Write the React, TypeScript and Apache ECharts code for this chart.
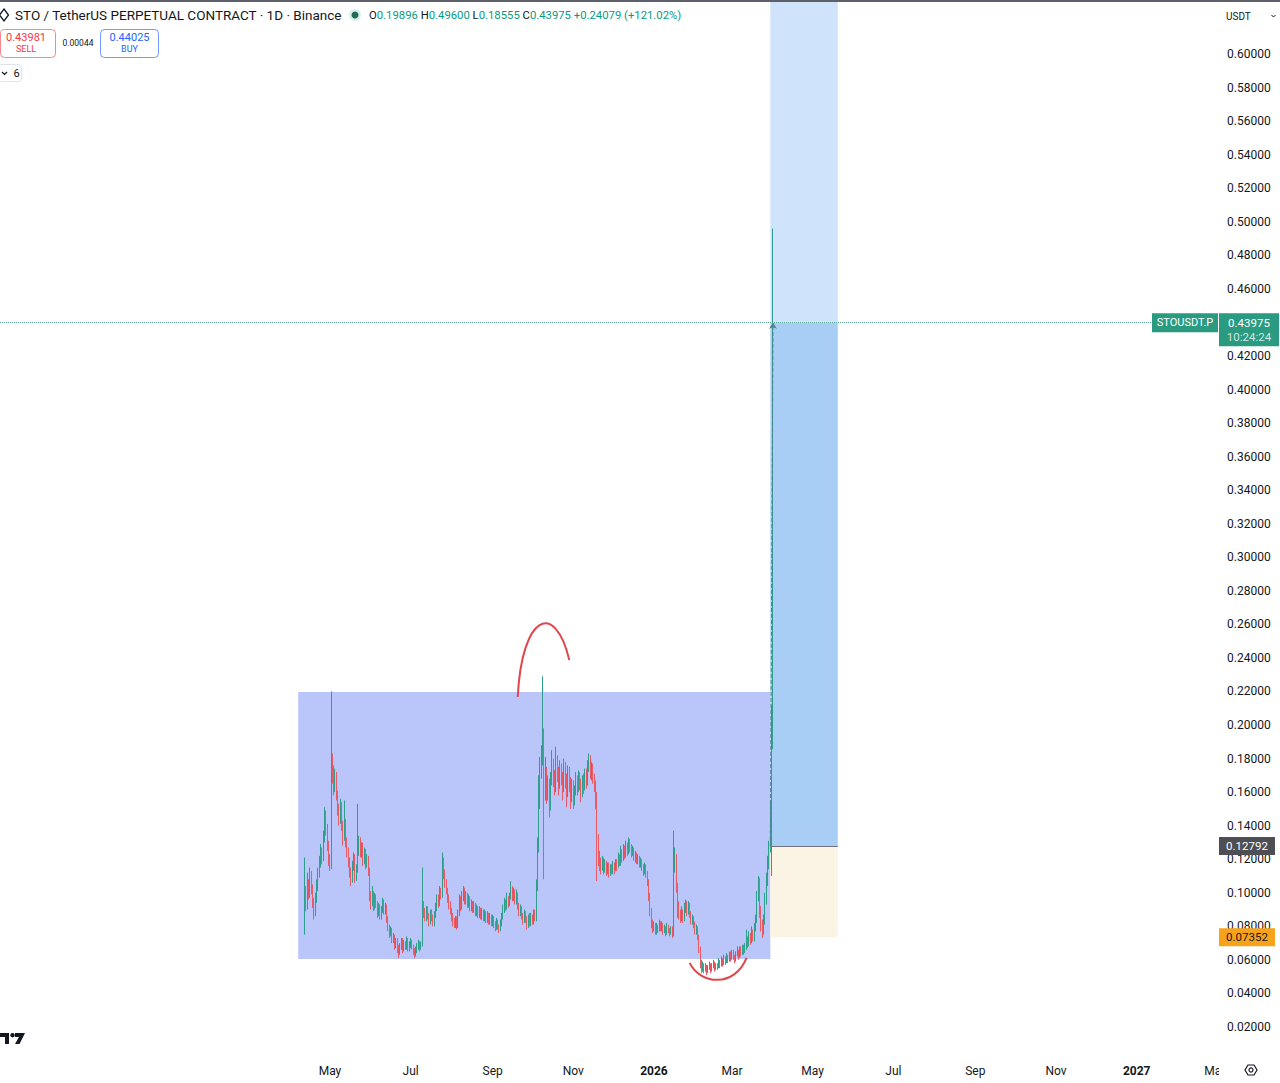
import { useEffect, useRef } from 'react';
// @ts-ignore
import * as echarts from 'echarts';

const FONT = 'Roboto, "Noto Sans", sans-serif';

// one category per day, from the left edge of the pane to the price scale
const axisStart = '2024-08-25';
const axisDays = 921;

const tickDates = ['2025-05-01', '2025-07-01', '2025-09-01', '2025-11-01', '2026-01-01', '2026-03-01', '2026-05-01', '2026-07-01', '2026-09-01', '2026-11-01', '2027-01-01', '2027-03-01'];
const tickLabels = ['May', 'Jul', 'Sep', 'Nov', '2026', 'Mar', 'May', 'Jul', 'Sep', 'Nov', '2027', 'Mar'];

// daily candles, 2025-04-12 .. 2026-04-01 (open = previous close)
const firstCandleDate = '2025-04-12';
const firstOpen = 0.079;
const closes = [
  0.098, 0.092, 0.105, 0.099, 0.110, 0.102, 0.094, 0.088, 0.096, 0.104,
  0.112, 0.118, 0.125, 0.121, 0.133, 0.146, 0.138, 0.128, 0.119, 0.116,
  0.178, 0.172, 0.163, 0.170, 0.158, 0.150, 0.144, 0.152, 0.140, 0.134,
  0.142, 0.130, 0.124, 0.118, 0.112, 0.108, 0.116, 0.121, 0.110, 0.114,
  0.126, 0.131, 0.124, 0.128, 0.119, 0.124, 0.117, 0.121, 0.113, 0.098,
  0.094, 0.099, 0.092, 0.097, 0.093, 0.088, 0.091, 0.086, 0.090, 0.094,
  0.089, 0.092, 0.084, 0.079, 0.076, 0.078, 0.072, 0.074, 0.069, 0.071,
  0.067, 0.065, 0.068, 0.071, 0.066, 0.070, 0.068, 0.072, 0.067, 0.069,
  0.071, 0.068, 0.065, 0.063, 0.066, 0.068, 0.070, 0.067, 0.069, 0.092,
  0.088, 0.085, 0.090, 0.086, 0.083, 0.088, 0.085, 0.082, 0.087, 0.091,
  0.096, 0.094, 0.101, 0.099, 0.118, 0.111, 0.106, 0.101, 0.097, 0.093,
  0.089, 0.086, 0.083, 0.081, 0.084, 0.080, 0.088, 0.096, 0.092, 0.098,
  0.101, 0.095, 0.099, 0.093, 0.097, 0.091, 0.094, 0.090, 0.093, 0.088,
  0.091, 0.087, 0.090, 0.086, 0.089, 0.085, 0.088, 0.084, 0.087, 0.083,
  0.086, 0.082, 0.085, 0.081, 0.079, 0.083, 0.080, 0.078, 0.082, 0.086,
  0.090, 0.094, 0.091, 0.097, 0.093, 0.098, 0.102, 0.097, 0.100, 0.095,
  0.099, 0.092, 0.088, 0.091, 0.086, 0.083, 0.088, 0.084, 0.080, 0.085,
  0.082, 0.086, 0.083, 0.088, 0.085, 0.104, 0.128, 0.161, 0.175, 0.182,
  0.193, 0.160, 0.172, 0.158, 0.166, 0.151, 0.168, 0.176, 0.170, 0.164,
  0.178, 0.171, 0.165, 0.174, 0.169, 0.162, 0.175, 0.168, 0.160, 0.172,
  0.166, 0.158, 0.165, 0.155, 0.161, 0.168, 0.162, 0.170, 0.165, 0.160,
  0.167, 0.163, 0.171, 0.166, 0.176, 0.180, 0.172, 0.175, 0.168, 0.164,
  0.158, 0.132, 0.121, 0.118, 0.115, 0.119, 0.114, 0.117, 0.113, 0.116,
  0.112, 0.115, 0.113, 0.117, 0.114, 0.118, 0.116, 0.121, 0.118, 0.124,
  0.121, 0.126, 0.123, 0.128, 0.125, 0.130, 0.127, 0.124, 0.126, 0.121,
  0.123, 0.119, 0.121, 0.117, 0.119, 0.115, 0.113, 0.116, 0.111, 0.107,
  0.098, 0.089, 0.082, 0.079, 0.081, 0.077, 0.080, 0.078, 0.082, 0.079,
  0.081, 0.077, 0.079, 0.076, 0.080, 0.078, 0.076, 0.079, 0.075, 0.118,
  0.121, 0.104, 0.092, 0.088, 0.085, 0.089, 0.084, 0.091, 0.094, 0.089,
  0.093, 0.087, 0.083, 0.085, 0.081, 0.077, 0.079, 0.074, 0.066, 0.058,
  0.055, 0.057, 0.054, 0.056, 0.053, 0.055, 0.057, 0.054, 0.056, 0.058,
  0.055, 0.057, 0.056, 0.059, 0.057, 0.060, 0.058, 0.061, 0.059, 0.062,
  0.060, 0.063, 0.061, 0.064, 0.062, 0.060, 0.063, 0.065, 0.062, 0.066,
  0.064, 0.067, 0.065, 0.068, 0.072, 0.069, 0.074, 0.071, 0.076, 0.073,
  0.079, 0.084, 0.098, 0.106, 0.088, 0.081, 0.076, 0.083, 0.095, 0.108,
  0.118, 0.127, 0.151, 0.19896, 0.43975,
];
const highs = [
  0.121, 0.104, 0.112, 0.108, 0.115, 0.113, 0.105, 0.097, 0.100, 0.108,
  0.115, 0.122, 0.129, 0.127, 0.137, 0.151, 0.149, 0.141, 0.131, 0.123,
  0.220, 0.183, 0.176, 0.174, 0.172, 0.161, 0.153, 0.156, 0.154, 0.143,
  0.155, 0.144, 0.133, 0.127, 0.121, 0.115, 0.119, 0.124, 0.123, 0.117,
  0.153, 0.134, 0.133, 0.130, 0.130, 0.127, 0.126, 0.123, 0.122, 0.115,
  0.101, 0.104, 0.101, 0.100, 0.099, 0.095, 0.094, 0.093, 0.092, 0.097,
  0.096, 0.094, 0.093, 0.086, 0.081, 0.080, 0.079, 0.076, 0.075, 0.073,
  0.073, 0.069, 0.070, 0.073, 0.073, 0.072, 0.071, 0.074, 0.073, 0.071,
  0.073, 0.072, 0.069, 0.067, 0.068, 0.070, 0.072, 0.071, 0.071, 0.115,
  0.095, 0.091, 0.092, 0.092, 0.088, 0.090, 0.090, 0.087, 0.089, 0.094,
  0.099, 0.099, 0.104, 0.103, 0.124, 0.121, 0.114, 0.108, 0.103, 0.099,
  0.095, 0.091, 0.088, 0.085, 0.086, 0.086, 0.090, 0.099, 0.098, 0.101,
  0.104, 0.103, 0.101, 0.100, 0.099, 0.098, 0.096, 0.095, 0.095, 0.094,
  0.093, 0.092, 0.092, 0.091, 0.091, 0.090, 0.090, 0.089, 0.089, 0.088,
  0.088, 0.087, 0.087, 0.086, 0.083, 0.085, 0.084, 0.081, 0.084, 0.088,
  0.093, 0.097, 0.096, 0.100, 0.098, 0.100, 0.107, 0.104, 0.103, 0.102,
  0.102, 0.100, 0.094, 0.093, 0.092, 0.088, 0.090, 0.089, 0.086, 0.087,
  0.088, 0.088, 0.087, 0.090, 0.090, 0.108, 0.133, 0.170, 0.181, 0.188,
  0.229, 0.198, 0.181, 0.175, 0.170, 0.168, 0.172, 0.185, 0.180, 0.173,
  0.187, 0.182, 0.175, 0.179, 0.177, 0.172, 0.180, 0.178, 0.171, 0.176,
  0.175, 0.169, 0.168, 0.167, 0.164, 0.172, 0.170, 0.173, 0.172, 0.168,
  0.170, 0.171, 0.174, 0.174, 0.179, 0.183, 0.182, 0.178, 0.177, 0.171,
  0.167, 0.160, 0.135, 0.125, 0.121, 0.122, 0.121, 0.120, 0.119, 0.118,
  0.118, 0.117, 0.117, 0.119, 0.118, 0.120, 0.120, 0.124, 0.123, 0.128,
  0.126, 0.129, 0.128, 0.131, 0.130, 0.133, 0.132, 0.129, 0.128, 0.127,
  0.125, 0.124, 0.123, 0.122, 0.121, 0.120, 0.117, 0.118, 0.117, 0.113,
  0.108, 0.100, 0.091, 0.084, 0.083, 0.082, 0.082, 0.081, 0.084, 0.083,
  0.083, 0.082, 0.081, 0.080, 0.082, 0.081, 0.079, 0.080, 0.080, 0.137,
  0.127, 0.123, 0.106, 0.095, 0.090, 0.092, 0.090, 0.094, 0.096, 0.095,
  0.095, 0.094, 0.089, 0.087, 0.086, 0.083, 0.081, 0.080, 0.075, 0.068,
  0.060, 0.059, 0.058, 0.058, 0.057, 0.057, 0.059, 0.058, 0.058, 0.060,
  0.059, 0.058, 0.058, 0.061, 0.060, 0.062, 0.061, 0.063, 0.062, 0.064,
  0.063, 0.065, 0.065, 0.066, 0.066, 0.063, 0.065, 0.068, 0.066, 0.068,
  0.068, 0.069, 0.069, 0.070, 0.078, 0.074, 0.077, 0.076, 0.080, 0.078,
  0.082, 0.087, 0.101, 0.110, 0.109, 0.092, 0.084, 0.087, 0.100, 0.112,
  0.122, 0.131, 0.155, 0.212, 0.496,
];
const lows = [
  0.075, 0.089, 0.090, 0.096, 0.097, 0.099, 0.091, 0.084, 0.086, 0.094,
  0.101, 0.109, 0.115, 0.117, 0.119, 0.130, 0.134, 0.125, 0.116, 0.113,
  0.114, 0.165, 0.158, 0.160, 0.155, 0.146, 0.140, 0.141, 0.137, 0.128,
  0.131, 0.127, 0.121, 0.115, 0.109, 0.104, 0.106, 0.113, 0.106, 0.107,
  0.112, 0.122, 0.121, 0.121, 0.116, 0.117, 0.114, 0.115, 0.110, 0.095,
  0.090, 0.092, 0.089, 0.090, 0.091, 0.085, 0.086, 0.084, 0.084, 0.088,
  0.087, 0.087, 0.082, 0.077, 0.073, 0.074, 0.070, 0.070, 0.066, 0.067,
  0.064, 0.061, 0.063, 0.066, 0.064, 0.065, 0.066, 0.066, 0.065, 0.065,
  0.067, 0.066, 0.063, 0.061, 0.062, 0.064, 0.066, 0.065, 0.066, 0.068,
  0.085, 0.083, 0.083, 0.084, 0.080, 0.081, 0.083, 0.080, 0.080, 0.085,
  0.089, 0.091, 0.092, 0.096, 0.097, 0.108, 0.103, 0.099, 0.094, 0.090,
  0.087, 0.083, 0.080, 0.079, 0.079, 0.078, 0.079, 0.086, 0.089, 0.090,
  0.095, 0.093, 0.093, 0.091, 0.091, 0.089, 0.089, 0.088, 0.088, 0.086,
  0.086, 0.085, 0.085, 0.084, 0.084, 0.083, 0.083, 0.082, 0.082, 0.081,
  0.081, 0.080, 0.080, 0.079, 0.077, 0.078, 0.078, 0.076, 0.077, 0.080,
  0.084, 0.088, 0.089, 0.090, 0.091, 0.092, 0.096, 0.095, 0.095, 0.093,
  0.093, 0.090, 0.086, 0.086, 0.084, 0.081, 0.082, 0.082, 0.078, 0.079,
  0.080, 0.080, 0.081, 0.081, 0.083, 0.083, 0.101, 0.124, 0.150, 0.168,
  0.176, 0.108, 0.155, 0.153, 0.155, 0.145, 0.149, 0.164, 0.163, 0.158,
  0.160, 0.166, 0.158, 0.162, 0.164, 0.155, 0.160, 0.162, 0.151, 0.157,
  0.160, 0.150, 0.154, 0.150, 0.152, 0.158, 0.158, 0.160, 0.161, 0.154,
  0.157, 0.159, 0.161, 0.162, 0.164, 0.172, 0.168, 0.167, 0.165, 0.160,
  0.150, 0.107, 0.116, 0.113, 0.111, 0.113, 0.111, 0.112, 0.110, 0.111,
  0.109, 0.110, 0.111, 0.111, 0.111, 0.113, 0.113, 0.115, 0.116, 0.116,
  0.118, 0.119, 0.120, 0.121, 0.122, 0.123, 0.124, 0.121, 0.122, 0.119,
  0.118, 0.117, 0.117, 0.115, 0.115, 0.113, 0.110, 0.111, 0.109, 0.104,
  0.095, 0.086, 0.079, 0.076, 0.077, 0.075, 0.075, 0.076, 0.077, 0.077,
  0.077, 0.075, 0.076, 0.074, 0.075, 0.076, 0.074, 0.075, 0.073, 0.074,
  0.112, 0.100, 0.085, 0.084, 0.082, 0.083, 0.082, 0.083, 0.088, 0.086,
  0.087, 0.085, 0.081, 0.081, 0.079, 0.075, 0.075, 0.072, 0.064, 0.055,
  0.052, 0.053, 0.052, 0.053, 0.051, 0.052, 0.054, 0.052, 0.053, 0.055,
  0.053, 0.054, 0.054, 0.055, 0.055, 0.056, 0.056, 0.057, 0.057, 0.058,
  0.058, 0.059, 0.059, 0.060, 0.060, 0.058, 0.059, 0.062, 0.060, 0.061,
  0.062, 0.063, 0.063, 0.064, 0.066, 0.067, 0.068, 0.069, 0.070, 0.071,
  0.071, 0.077, 0.082, 0.095, 0.085, 0.077, 0.073, 0.075, 0.081, 0.093,
  0.104, 0.114, 0.124, 0.110, 0.18555,
];

const lastPrice = 0.43975;
const entryPrice = 0.12792;
const stopPrice = 0.07352;
const priceMax = 0.6322;

// drawings on the chart, in dates and prices
const rangeBoxDates = ['2025-04-07', '2026-03-30'];
const rangeBoxPrices = [0.0605, 0.2197];
const positionDates = ['2026-03-30', '2026-05-20'];
const lastDate = '2026-04-01';
const topArcDates = ['2025-09-20', '2025-09-23', '2025-10-18', '2025-10-29'];
const topArcPrices = [0.2167, 0.2656, 0.2746, 0.2388];
const bottomArcDates = ['2026-01-28', '2026-02-05', '2026-03-03', '2026-03-12'];
const bottomArcPrices = [0.0582, 0.0451, 0.0433, 0.0612];

const addDays = (iso: string, n: number) => {
  const d = new Date(iso + 'T00:00:00Z');
  d.setUTCDate(d.getUTCDate() + n);
  return d.toISOString().slice(0, 10);
};

const App = () => {
  const chartRef = useRef<HTMLDivElement>(null);

  useEffect(() => {
    document.body.style.margin = '0';
    if (!chartRef.current) return;
    const chart = echarts.init(chartRef.current, null, { renderer: 'svg' });

    const dates = Array.from({ length: axisDays }, (_, i) => addDays(axisStart, i));
    const startIdx = dates.indexOf(firstCandleDate);
    const candles: any[] = dates.map(() => '-');
    closes.forEach((c, i) => {
      const open = i === 0 ? firstOpen : closes[i - 1];
      candles[startIdx + i] = [open, c, lows[i], highs[i]];
    });

    const option = {
      animation: false,
      backgroundColor: '#ffffff',
      grid: { left: 0, right: 62, top: 0, bottom: 22.5 },
      xAxis: {
        type: 'category',
        data: dates,
        boundaryGap: true,
        axisLine: { show: false },
        axisTick: { show: false },
        splitLine: { show: false },
        axisLabel: {
          interval: (_: number, v: string) => tickDates.includes(v),
          formatter: (v: string) => {
            const t = tickLabels[tickDates.indexOf(v)];
            return /^\d{4}$/.test(t) ? `{b|${t}}` : t;
          },
          margin: 4,
          color: '#131722',
          fontSize: 12,
          fontFamily: FONT,
          rich: { b: { fontWeight: 'bold', fontSize: 12, fontFamily: FONT, color: '#131722' } },
        },
      },
      yAxis: {
        type: 'value',
        position: 'right',
        min: 0,
        max: priceMax,
        interval: 0.02,
        axisLine: { show: false },
        axisTick: { show: false },
        splitLine: { show: false },
        axisLabel: {
          margin: 9,
          color: '#131722',
          fontSize: 12,
          fontFamily: FONT,
          formatter: (v: number) => (v > 0.61 || v < 0.01 ? '' : v.toFixed(5)),
        },
      },
      series: [
        {
          type: 'candlestick',
          data: candles,
          large: false,
          barWidth: 1,
          z: 2,
          itemStyle: {
            color: '#2f9e8c',
            color0: '#e85a66',
            borderColor: '#2f9e8c',
            borderColor0: '#e85a66',
            borderWidth: 1,
          },
          markArea: {
            silent: true,
            label: { show: false },
            data: [
              [
                { coord: [rangeBoxDates[0], rangeBoxPrices[0]], itemStyle: { color: '#bac5fa' } },
                { coord: [rangeBoxDates[1], rangeBoxPrices[1]] },
              ],
              [
                { coord: [positionDates[0], lastPrice], itemStyle: { color: '#cfe3fb' } },
                { coord: [positionDates[1], priceMax] },
              ],
              [
                { coord: [positionDates[0], entryPrice], itemStyle: { color: '#a9cef6' } },
                { coord: [positionDates[1], lastPrice] },
              ],
              [
                { coord: [positionDates[0], stopPrice], itemStyle: { color: '#fbf3e3' } },
                { coord: [positionDates[1], entryPrice] },
              ],
            ],
          },
          markLine: {
            silent: true,
            symbol: ['none', 'none'],
            label: { show: false },
            data: [
              { yAxis: lastPrice, lineStyle: { type: 'dotted', color: '#5fa898', width: 1 } },
              [
                { coord: [positionDates[0], entryPrice], lineStyle: { type: 'solid', color: '#6f7380', width: 1 } },
                { coord: [positionDates[1], entryPrice] },
              ],
              [
                { coord: [positionDates[0], entryPrice], lineStyle: { type: 'dashed', color: '#4f8090', width: 1 } },
                { coord: [lastDate, lastPrice], symbol: 'arrow', symbolSize: 6 },
              ],
            ],
          },
        },
      ],
    };
    chart.setOption(option);

    const px = (d: string, p: number) => chart.convertToPixel({ gridIndex: 0 }, [d, p]) as number[];
    const yOf = (p: number) => px(lastDate, p)[1];
    const yCur = yOf(lastPrice);
    const yEntry = yOf(entryPrice);
    const yStop = yOf(stopPrice);
    const a1 = topArcDates.map((d, i) => px(d, topArcPrices[i]));
    const a2 = bottomArcDates.map((d, i) => px(d, bottomArcPrices[i]));

    const txt = (x: number, y: number, text: string, font: string, fill: string, align = 'left') => ({
      type: 'text', x, y, z: 100,
      style: { text, font, fill, textAlign: align, textVerticalAlign: 'middle' },
    });
    const curve = (p: number[][]) => ({
      type: 'bezierCurve', z: 100,
      shape: { x1: p[0][0], y1: p[0][1], cpx1: p[1][0], cpy1: p[1][1], cpx2: p[2][0], cpy2: p[2][1], x2: p[3][0], y2: p[3][1] },
      style: { stroke: '#e0474c', lineWidth: 2, fill: null },
    });
    const green = '#2a9b80';

    const graphic = [
      { type: 'rect', z: 100, shape: { x: 0, y: 0, width: 1280, height: 2 }, style: { fill: '#5d606b' } },
      { type: 'polygon', z: 100, shape: { points: [[4, 9], [8.5, 15], [4, 21], [-0.5, 15]] }, style: { fill: 'none', stroke: '#131722', lineWidth: 1.3 } },
      txt(15, 15, 'STO / TetherUS PERPETUAL CONTRACT · 1D · Binance', `13.5px ${FONT}`, '#131722'),
      { type: 'circle', z: 100, shape: { cx: 355, cy: 15, r: 6 }, style: { fill: 'rgba(8,153,129,0.15)' } },
      { type: 'circle', z: 100, shape: { cx: 355, cy: 15, r: 3.5 }, style: { fill: '#236b57' } },
      {
        type: 'text', x: 369, y: 15, z: 100,
        style: {
          text: '{l|O}{v|0.19896} {l|H}{v|0.49600} {l|L}{v|0.18555} {l|C}{v|0.43975} {v|+0.24079 (+121.02%)}',
          textVerticalAlign: 'middle',
          font: `11.3px ${FONT}`,
          rich: {
            l: { fill: '#131722', font: `11.3px ${FONT}` },
            v: { fill: '#089981', font: `11.3px ${FONT}` },
          },
        },
      },
      { type: 'rect', z: 100, shape: { x: 0.5, y: 29.5, width: 55, height: 28, r: 4 }, style: { fill: '#fff', stroke: 'rgba(242,54,69,0.6)', lineWidth: 1 } },
      txt(26, 37, '0.43981', `11px ${FONT}`, '#f23645', 'center'),
      txt(26, 49, 'SELL', `9px ${FONT}`, '#f23645', 'center'),
      txt(78, 43, '0.00044', `8.5px ${FONT}`, '#131722', 'center'),
      { type: 'rect', z: 100, shape: { x: 100.5, y: 29.5, width: 58, height: 28, r: 4 }, style: { fill: '#fff', stroke: 'rgba(41,98,255,0.65)', lineWidth: 1 } },
      txt(129.5, 37, '0.44025', `11px ${FONT}`, '#2962ff', 'center'),
      txt(129.5, 49, 'BUY', `9px ${FONT}`, '#2962ff', 'center'),
      { type: 'rect', z: 100, shape: { x: -2.5, y: 64.5, width: 24, height: 17, r: 3 }, style: { fill: '#fff', stroke: '#e0e3eb', lineWidth: 1 } },
      { type: 'polyline', z: 100, shape: { points: [[2, 72], [4.5, 74.5], [7, 72]] }, style: { stroke: '#131722', lineWidth: 1.2, fill: null } },
      txt(13.5, 73.5, '6', `11px ${FONT}`, '#131722'),
      txt(1226, 16, 'USDT', `10px ${FONT}`, '#131722'),
      { type: 'polyline', z: 100, shape: { points: [[1271.5, 15], [1273.5, 17], [1275.5, 15]] }, style: { stroke: '#131722', lineWidth: 1, fill: null } },
      curve(a1),
      curve(a2),
      { type: 'rect', z: 100, shape: { x: 1152, y: yCur - 9.5, width: 66, height: 19 }, style: { fill: green } },
      txt(1185, yCur, 'STOUSDT.P', `11px ${FONT}`, '#ffffff', 'center'),
      { type: 'rect', z: 100, shape: { x: 1219, y: yCur - 9.5, width: 60, height: 33 }, style: { fill: green } },
      txt(1249, yCur, '0.43975', `11.5px ${FONT}`, '#ffffff', 'center'),
      txt(1249, yCur + 14.5, '10:24:24', `11.5px ${FONT}`, 'rgba(255,255,255,0.78)', 'center'),
      { type: 'rect', z: 100, shape: { x: 1219, y: yEntry - 9, width: 56, height: 18 }, style: { fill: '#4d4f55' } },
      txt(1247, yEntry, '0.12792', `11.5px ${FONT}`, '#ffffff', 'center'),
      { type: 'rect', z: 100, shape: { x: 1219, y: yStop - 9, width: 56, height: 18 }, style: { fill: '#f7a21b' } },
      txt(1247, yStop, '0.07352', `11.5px ${FONT}`, '#131722', 'center'),
      { type: 'rect', z: 100, shape: { x: 1219, y: 1056, width: 61, height: 27 }, style: { fill: '#ffffff' } },
      { type: 'polygon', z: 101, shape: { points: [[1248, 1065], [1254, 1065], [1257, 1070], [1254, 1075], [1248, 1075], [1245, 1070]] }, style: { fill: 'none', stroke: '#131722', lineWidth: 1.2 } },
      { type: 'circle', z: 101, shape: { cx: 1251, cy: 1070, r: 2 }, style: { fill: 'none', stroke: '#131722', lineWidth: 1.2 } },
      { type: 'polygon', z: 100, shape: { points: [[0, 1033], [9, 1033], [9, 1044], [5, 1044], [5, 1037], [0, 1037]] }, style: { fill: '#131722' } },
      { type: 'circle', z: 100, shape: { cx: 12.5, cy: 1035.2, r: 2.2 }, style: { fill: '#131722' } },
      { type: 'polygon', z: 100, shape: { points: [[15, 1033], [25, 1033], [19.5, 1044], [15, 1044], [19, 1037], [15, 1037]] }, style: { fill: '#131722' } },
    ];
    chart.setOption({ graphic });

    return () => {
      chart.dispose();
    };
  }, []);

  return <div ref={chartRef} style={{ width: 1280, height: 1083 }} />;
};

export default App;
